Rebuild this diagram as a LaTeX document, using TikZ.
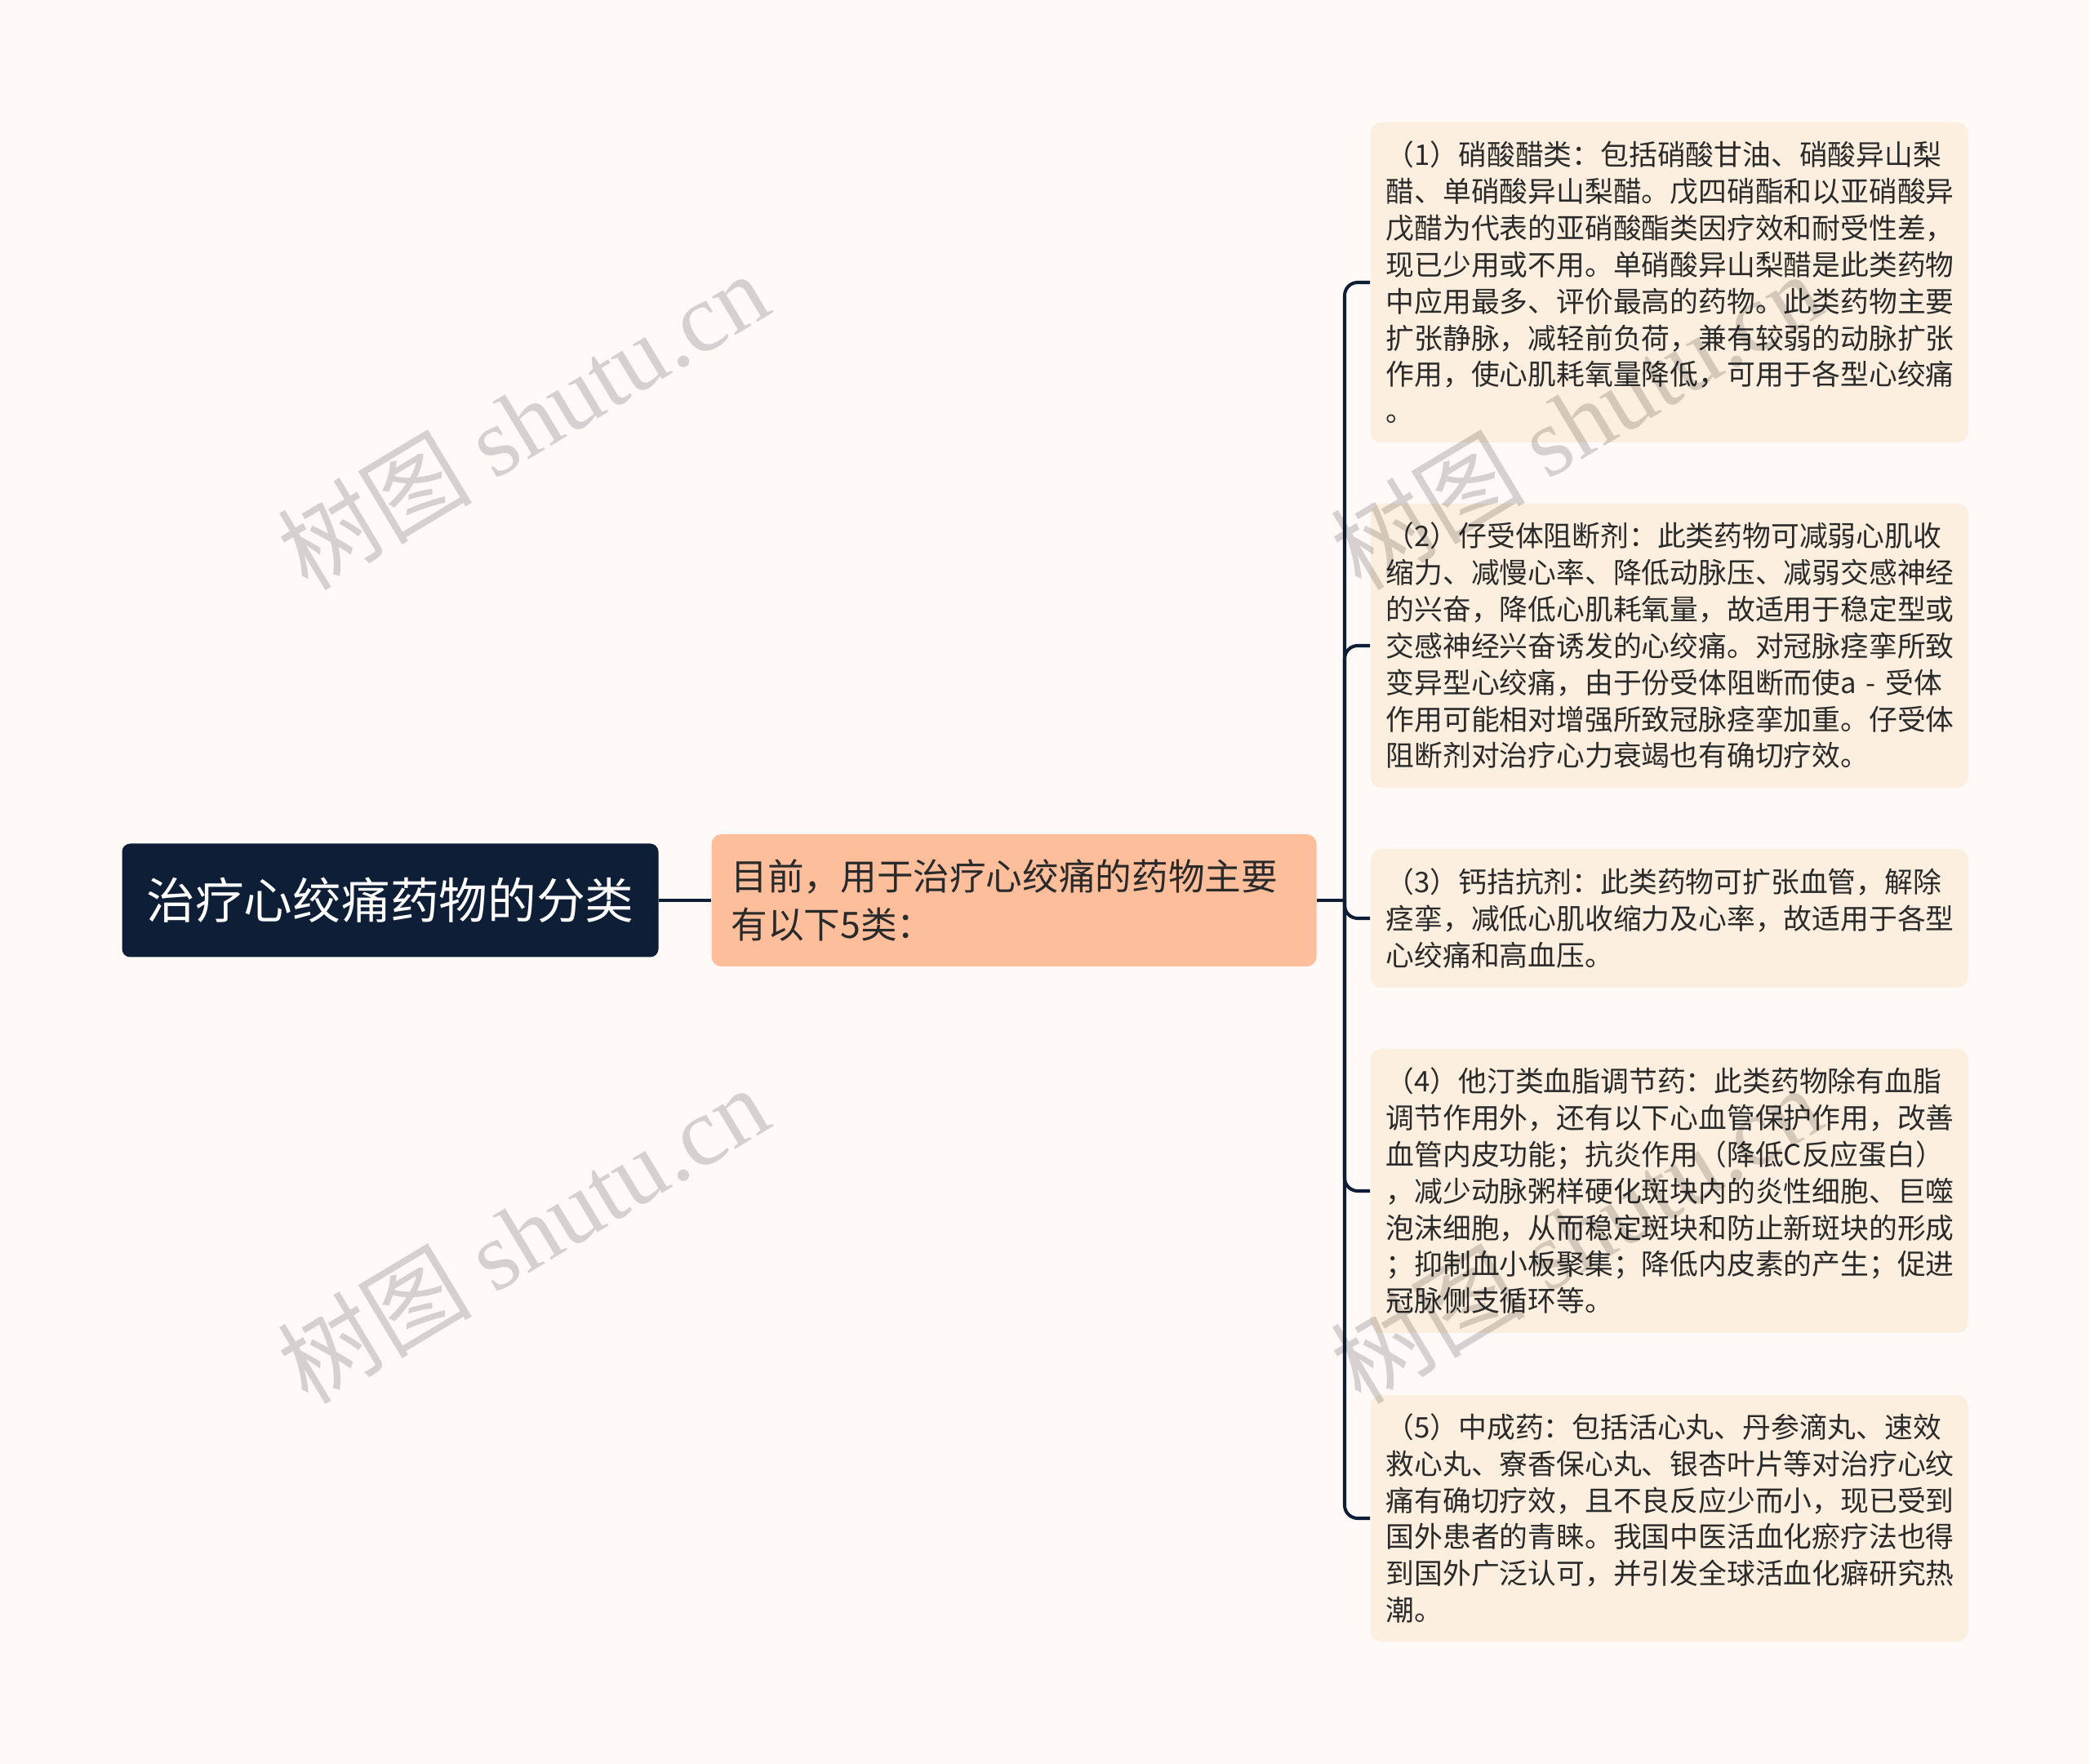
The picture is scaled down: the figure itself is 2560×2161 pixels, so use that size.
\documentclass[tikz,border=0pt]{standalone}
\usepackage{fontspec}
\setmainfont{Noto Sans CJK SC}
\newfontfamily\wmlatin{Liberation Serif}
\definecolor{bgcol}{HTML}{FFFAF8}
\definecolor{rootcol}{HTML}{0F1E37}
\definecolor{midcol}{HTML}{FDBE9C}
\definecolor{leafcol}{HTML}{FDEFDF}
\definecolor{linecol}{HTML}{0F1E37}
\definecolor{textcol}{HTML}{2A2A2A}
\newcommand{\px}{0.1mm}

\begin{document}
\begin{tikzpicture}[x=\px, y=-\px,
  rootbox/.style={fill=rootcol, rounded corners=1mm, minimum width=65.7mm, minimum height=13.9mm, text=white, font=\fontsize{17}{20}\selectfont},
  midbox/.style={fill=midcol, rounded corners=1.2mm, minimum width=74.1mm, minimum height=16.2mm, text width=69.3mm, inner xsep=2.4mm, align=left, text=textcol, font=\fontsize{12.7}{16.7}\selectfont},
  leaf/.style={fill=leafcol, rounded corners=1.3mm, anchor=west, minimum width=73.2mm, text width=69.4mm, inner xsep=1.9mm, align=left, text=textcol, font=\fontsize{9.9}{12.75}\selectfont},
  link/.style={draw=linecol, line width=1.15pt, rounded corners=1.6mm},
  wm/.style={rotate=31, text=black, opacity=0.16, font=\fontsize{34}{38}\selectfont}]
    % page
    \fill[bgcol] (0,0) rectangle (2560,2161);
    \useasboundingbox (0,0) rectangle (2560,2161);

    % left side
    \node[rootbox] (root) at (478,1103) {治疗心绞痛药物的分类};
    \node[midbox] (mid) at (1242,1103) {目前，用于治疗心绞痛的药物主要\\有以下5类：};

    % five classes
    \node[leaf, minimum height=39.2mm] (item-1) at (1678,346) {（1）硝酸醋类：包括硝酸甘油、硝酸异山梨\\醋、单硝酸异山梨醋。戊四硝酯和以亚硝酸异\\戊醋为代表的亚硝酸酯类因疗效和耐受性差，\\现已少用或不用。单硝酸异山梨醋是此类药物\\中应用最多、评价最高的药物。此类药物主要\\扩张静脉，减轻前负荷，兼有较弱的动脉扩张\\作用，使心肌耗氧量降低，可用于各型心绞痛\\。};
    \node[leaf, minimum height=34.8mm] (item-2) at (1678,791) {（2）仔受体阻断剂：此类药物可减弱心肌收\\缩力、减慢心率、降低动脉压、减弱交感神经\\的兴奋，降低心肌耗氧量，故适用于稳定型或\\交感神经兴奋诱发的心绞痛。对冠脉痉挛所致\\变异型心绞痛，由于份受体阻断而使a~-~受体\\作用可能相对增强所致冠脉痉挛加重。仔受体\\阻断剂对治疗心力衰竭也有确切疗效。};
    \node[leaf, minimum height=17mm] (item-3) at (1678,1125) {（3）钙拮抗剂：此类药物可扩张血管，解除\\痉挛，减低心肌收缩力及心率，故适用于各型\\心绞痛和高血压。};
    \node[leaf, minimum height=34.8mm] (item-4) at (1678,1459) {（4）他汀类血脂调节药：此类药物除有血脂\\调节作用外，还有以下心血管保护作用，改善\\血管内皮功能；抗炎作用（降低C反应蛋白）\\，减少动脉粥样硬化斑块内的炎性细胞、巨噬\\泡沫细胞，从而稳定斑块和防止新斑块的形成\\；抑制血小板聚集；降低内皮素的产生；促进\\冠脉侧支循环等。};
    \node[leaf, minimum height=30.2mm] (item-5) at (1678,1860) {（5）中成药：包括活心丸、丹参滴丸、速效\\救心丸、寮香保心丸、银杏叶片等对治疗心纹\\痛有确切疗效，且不良反应少而小，现已受到\\国外患者的青睐。我国中医活血化瘀疗法也得\\到国外广泛认可，并引发全球活血化癖研究热\\潮。};

    % connectors
    \coordinate (fork) at (1647,1103);
    \draw[link] (root.east) -- (mid.west);
    \draw[link] (mid.east) -- (fork);
    \draw[link] (fork) |- (item-1.west);
    \draw[link] (fork) |- (item-2.west);
    \draw[link] (fork) |- (item-3.west);
    \draw[link] (fork) |- (item-4.west);
    \draw[link] (fork) |- (item-5.west);

    % watermark
    \node[wm] (wm-1) at (640,515) {树图 {\wmlatin shutu.cn}};
    \node[wm] (wm-2) at (640,1512) {树图 {\wmlatin shutu.cn}};
    \node[wm] (wm-3) at (1930,515) {树图 {\wmlatin shutu.cn}};
    \node[wm] (wm-4) at (1930,1512) {树图 {\wmlatin shutu.cn}};
\end{tikzpicture}
\end{document}
